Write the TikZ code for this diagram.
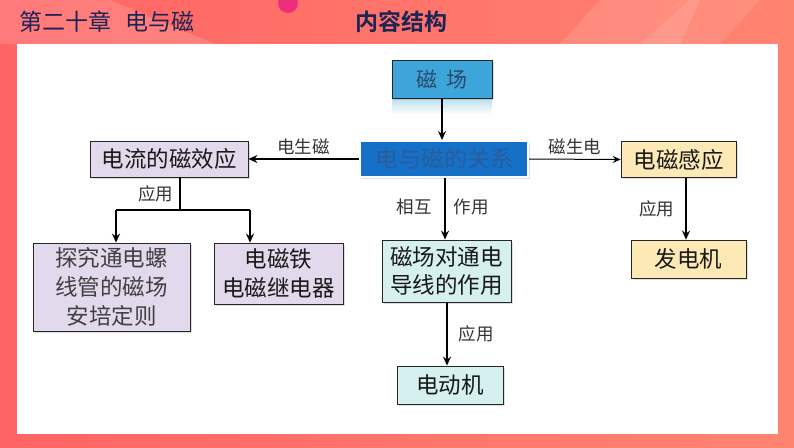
\documentclass[tikz,border=0pt]{standalone}
\usepackage{fontspec}
\setmainfont{Noto Sans CJK SC}
\newfontfamily\cjkb[BoldFont={Noto Sans CJK SC Bold}]{Noto Sans CJK SC}
\usetikzlibrary{arrows.meta,shadows}
\definecolor{coralA}{HTML}{FF6464}
\definecolor{coralB}{HTML}{FF8470}
\definecolor{navy}{HTML}{1E2456}
\definecolor{fieldblue}{HTML}{3DA5D9}
\definecolor{fieldtxt}{HTML}{2B4A6A}
\definecolor{relblue}{HTML}{1570C8}
\definecolor{reltxt}{HTML}{2A5C9A}
\definecolor{lav}{HTML}{E3D9EC}
\definecolor{yel}{HTML}{FCE9B5}
\definecolor{cya}{HTML}{D6EFEF}
\definecolor{lbl}{HTML}{333333}
\tikzset{
  box/.style={draw=black!85, line width=0.8pt, inner sep=0pt, align=center,
     font=\fontsize{22.5}{29}\selectfont, text=black!90,
     drop shadow={shadow xshift=1.5pt, shadow yshift=-1.5pt, opacity=0.25}},
  lab/.style={font=\fontsize{17.5}{18}\selectfont, text=lbl, inner sep=1pt},
  arr/.style={line width=1.6pt, -{Stealth[length=9pt,width=8pt,inset=3pt]}},
  thinarr/.style={line width=1pt, -{Stealth[length=8pt,width=7pt,inset=3pt]}},
  ln/.style={line width=1.6pt}
}
\begin{document}
\begin{tikzpicture}[x=1pt,y=-1pt]
\useasboundingbox (0,0) rectangle (794,447);
% background
\shade[left color=coralA, right color=coralB] (0,0) rectangle (794,447);
\fill[white, opacity=0.15] (0,0) -- (110,0) -- (215,44) -- (0,44) -- cycle;
\fill[white, opacity=0.12] (560,44) -- (600,0) -- (700,0) -- (680,44) -- cycle;
\fill[white, opacity=0.10] (640,44) -- (690,0) -- (760,0) -- (720,44) -- cycle;
\fill[magenta!60!coralA] (288,3) circle (10);
\fill[white] (17,44) rectangle (778,434);
% title
\node[anchor=west, text=navy, font=\fontsize{23}{26}\selectfont, inner sep=0] (title) at (19,22) {第二十章\hspace{0.6em}电与磁};
\node[text=navy, font=\cjkb\bfseries\fontsize{23}{26}\selectfont, inner sep=0] (sub) at (401,22) {内容结构};
% reflection of 磁场
\shade[top color=fieldblue!35, bottom color=white] (392,99) rectangle (492,114);
% nodes
\node[box, fill=fieldblue, text=fieldtxt, minimum width=100pt, minimum height=38pt, font=\fontsize{21}{24}\selectfont, drop shadow={opacity=0}] (field) at (442,79) {磁\hspace{0.4em}场};
\node[box, draw=white, line width=2pt, fill=relblue, text=reltxt, minimum width=168pt, minimum height=36pt, font=\fontsize{23}{24}\selectfont] (rel) at (444,159) {电与磁的关系};
\node[box, fill=lav, minimum width=158pt, minimum height=36pt] (cur) at (169,159) {电流的磁效应};
\node[box, fill=yel, minimum width=115pt, minimum height=36pt] (ind) at (678.5,159.5) {电磁感应};
\node[box, fill=yel, minimum width=115pt, minimum height=38pt] (gen) at (688.5,259) {发电机};
\node[box, fill=lav, minimum width=157pt, minimum height=88pt, text=black!75] (sol) at (111.5,287) {探究通电螺\\线管的磁场\\安培定则};
\node[box, fill=lav, minimum width=129pt, minimum height=61pt] (mag) at (278.5,273.5) {电磁铁\\电磁继电器};
\node[box, fill=cya, minimum width=129pt, minimum height=62pt, font=\fontsize{22.5}{28}\selectfont] (force) at (446.5,271) {磁场对通电\\导线的作用};
\node[box, fill=cya, minimum width=106pt, minimum height=38pt] (motor) at (450,385) {电动机};
% connectors
\draw[arr] (field.south) -- (rel.north -| field.south);
\draw[arr] (rel.west) -- (cur.east) node[lab, midway, above=3pt] {电生磁};
\draw[thinarr] (rel.east) -- (ind.west) node[lab, midway, above=3pt] {磁生电};
\draw[arr] (ind.south -| 686,0) -- (gen.north -| 686,0) node[lab, midway, left=10pt] {应用};
\coordinate (split) at (180,210);
\draw[ln] (cur.south -| split) -- (split) node[lab, midway, left=5pt] {应用};
\draw[ln] (116,210) -- (250,210);
\draw[arr] (116,210) -- (sol.north -| 116,0);
\draw[arr] (250,210) -- (mag.north -| 250,0);
\draw[arr] (rel.south -| 445,0) -- (force.north -| 445,0);
\node[lab] (l1) at (414,207) {相互};
\node[lab] (l2) at (471,207) {作用};
\draw[arr] (force.south -| 447,0) -- (motor.north -| 447,0) node[lab, midway, right=10pt] {应用};
\end{tikzpicture}
\end{document}
